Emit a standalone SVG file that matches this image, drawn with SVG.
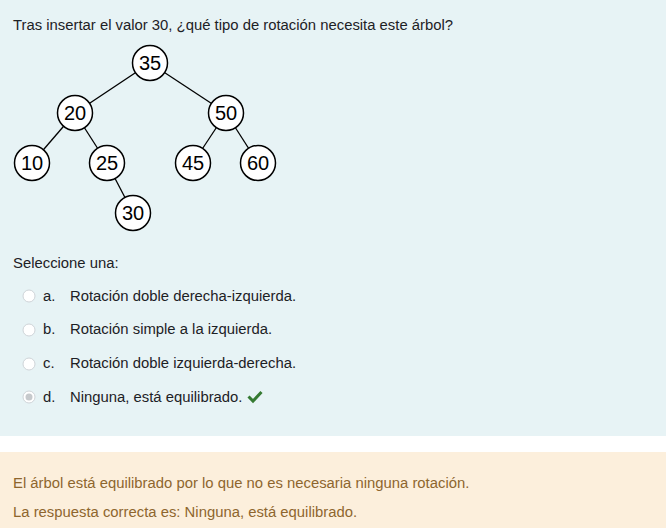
<svg xmlns="http://www.w3.org/2000/svg" width="666" height="528" viewBox="0 0 666 528">
<style>
.t{font-family:"Liberation Sans",Arial,sans-serif;font-size:14.85px;fill:#1d2125}
.f{font-family:"Liberation Sans",Arial,sans-serif;font-size:14.85px;fill:#8e662e}
.n circle{fill:#fff;stroke:#000;stroke-width:1.5}
.n text{font-family:"Liberation Sans",Arial,sans-serif;font-size:20px;fill:#000;text-anchor:middle}
.e line{stroke:#000;stroke-width:1.3}
.r{fill:#fff;stroke:#cfd4d8;stroke-width:1}
</style>
<rect x="0" y="0" width="666" height="436" fill="#e7f3f5"/>
<rect x="0" y="436" width="666" height="16" fill="#fff"/>
<rect x="0" y="452" width="666" height="76" fill="#fcefdc"/>
<text class="t" x="13" y="30">Tras insertar el valor 30, ¿qué tipo de rotación necesita este árbol?</text>
<g class="e" id="edges">
<line x1="150" y1="63" x2="75" y2="113"/>
<line x1="150" y1="63" x2="226" y2="113"/>
<line x1="75" y1="113" x2="32" y2="163"/>
<line x1="75" y1="113" x2="107" y2="163"/>
<line x1="107" y1="163" x2="133" y2="213"/>
<line x1="226" y1="113" x2="193" y2="163"/>
<line x1="226" y1="113" x2="258" y2="163"/>
</g>
<g class="n" id="n35"><circle cx="150" cy="63" r="17.5"/><text x="150" y="70">35</text></g>
<g class="n" id="n20"><circle cx="75" cy="113" r="17.5"/><text x="75" y="120">20</text></g>
<g class="n" id="n50"><circle cx="226" cy="113" r="17.5"/><text x="226" y="120">50</text></g>
<g class="n" id="n10"><circle cx="32" cy="163" r="17.5"/><text x="32" y="170">10</text></g>
<g class="n" id="n25"><circle cx="107" cy="163" r="17.5"/><text x="107" y="170">25</text></g>
<g class="n" id="n45"><circle cx="193" cy="163" r="17.5"/><text x="193" y="170">45</text></g>
<g class="n" id="n60"><circle cx="258" cy="163" r="17.5"/><text x="258" y="170">60</text></g>
<g class="n" id="n30"><circle cx="133" cy="213" r="17.5"/><text x="133" y="220">30</text></g>
<text class="t" x="13" y="268">Seleccione una:</text>
<circle class="r" cx="29" cy="296" r="6"/>
<circle class="r" cx="29" cy="330" r="6"/>
<circle class="r" cx="29" cy="364" r="6"/>
<circle class="r" cx="29" cy="397" r="6"/>
<circle cx="29" cy="397" r="3.5" fill="#c6c9cc"/>
<text class="t" x="43" y="301">a.</text><text class="t" x="70" y="301">Rotación doble derecha-izquierda.</text>
<text class="t" x="43" y="334">b.</text><text class="t" x="70" y="334">Rotación simple a la izquierda.</text>
<text class="t" x="43" y="368">c.</text><text class="t" x="70" y="368">Rotación doble izquierda-derecha.</text>
<text class="t" x="43" y="402">d.</text><text class="t" x="70" y="402">Ninguna, está equilibrado.</text>
<path d="M248.5 396.5 L253 401 L261.5 392" fill="none" stroke="#357a32" stroke-width="3"/>
<text class="f" x="13" y="488">El árbol está equilibrado por lo que no es necesaria ninguna rotación.</text>
<text class="f" x="13" y="517">La respuesta correcta es: Ninguna, está equilibrado.</text>
</svg>
